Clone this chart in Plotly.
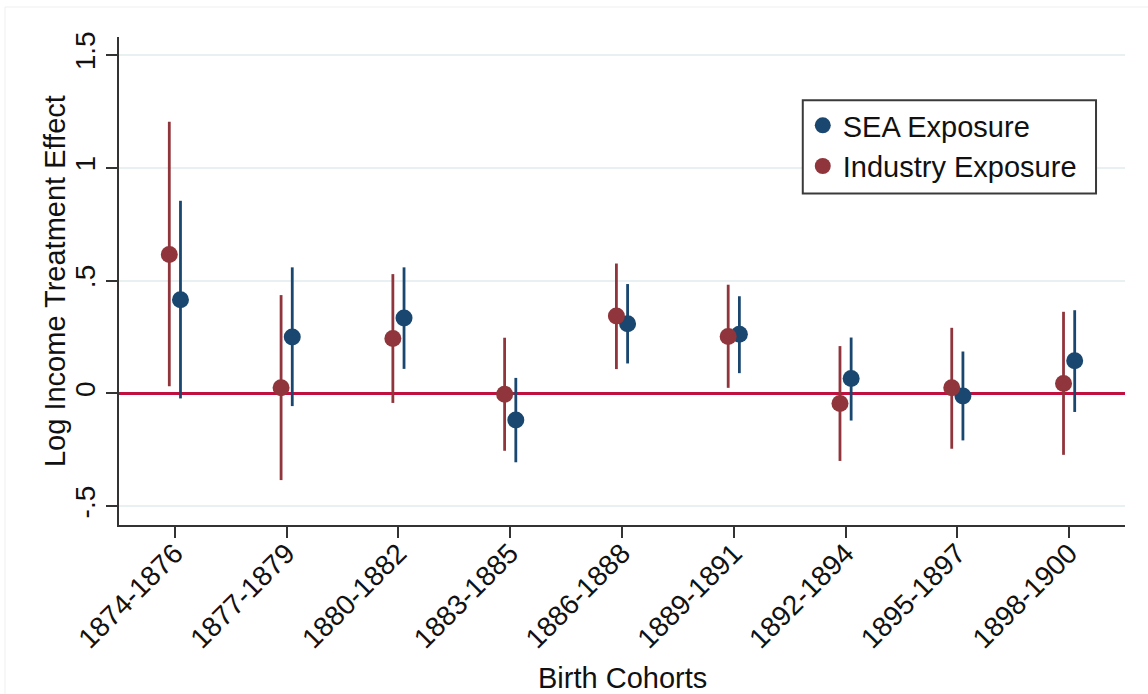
import plotly.graph_objects as go

cohorts = ["1874-1876", "1877-1879", "1880-1882", "1883-1885", "1886-1888",
           "1889-1891", "1892-1894", "1895-1897", "1898-1900"]

sea_est = [0.415, 0.250, 0.334, -0.118, 0.309, 0.262, 0.066, -0.011, 0.145]
sea_lo = [-0.022, -0.056, 0.109, -0.305, 0.133, 0.090, -0.120, -0.208, -0.082]
sea_hi = [0.854, 0.559, 0.559, 0.069, 0.485, 0.431, 0.248, 0.186, 0.369]

ind_est = [0.616, 0.025, 0.244, -0.003, 0.343, 0.253, -0.044, 0.025, 0.044]
ind_lo = [0.032, -0.384, -0.042, -0.254, 0.108, 0.025, -0.299, -0.245, -0.272]
ind_hi = [1.204, 0.436, 0.529, 0.247, 0.576, 0.482, 0.210, 0.291, 0.362]

y_ticks = [-0.5, 0, 0.5, 1, 1.5]
y_ticktext = ["-.5", "0", ".5", "1", "1.5"]

NAVY = "#1a476f"
MAROON = "#90353b"
FONT = "Liberation Sans, Arial, sans-serif"
TXT = "#111111"

idx = list(range(len(cohorts)))
shift = 0.05

fig = go.Figure()
fig.add_trace(go.Scatter(
    x=[i + shift for i in idx], y=sea_est, mode="markers", name="SEA Exposure",
    marker=dict(color=NAVY, size=17),
    error_y=dict(type="data", symmetric=False,
                 array=[h - e for h, e in zip(sea_hi, sea_est)],
                 arrayminus=[e - l for e, l in zip(sea_est, sea_lo)],
                 color=NAVY, thickness=2.8, width=0),
))
fig.add_trace(go.Scatter(
    x=[i - shift for i in idx], y=ind_est, mode="markers", name="Industry Exposure",
    marker=dict(color=MAROON, size=17),
    error_y=dict(type="data", symmetric=False,
                 array=[h - e for h, e in zip(ind_hi, ind_est)],
                 arrayminus=[e - l for e, l in zip(ind_est, ind_lo)],
                 color=MAROON, thickness=2.8, width=0),
))

fig.update_layout(
    width=1148, height=694,
    margin=dict(l=119, r=23, t=37, b=169),
    paper_bgcolor="white", plot_bgcolor="white",
    font=dict(family=FONT, size=28, color=TXT),
    showlegend=True,
    legend=dict(x=0.6797, y=0.871, xanchor="left", yanchor="top",
                borderwidth=0, bgcolor="rgba(0,0,0,0)",
                font=dict(size=29, family=FONT, color=TXT)),
    shapes=[
        dict(type="rect", xref="paper", yref="paper",
             x0=-0.1133, x1=1.05, y0=-0.5, y1=1.0615,
             line=dict(color="#efefef", width=1), layer="below"),
        dict(type="rect", xref="paper", yref="paper",
             x0=0.6797, x1=0.9712, y0=0.6793, y1=0.8705,
             line=dict(color="#3a3a3a", width=2), fillcolor="white", layer="above"),
    ],
    annotations=[
        dict(text="Birth Cohorts", xref="paper", yref="paper",
             x=0.5, y=-0.3135, xanchor="center", yanchor="middle",
             showarrow=False, font=dict(size=29, family=FONT, color=TXT)),
        dict(text="Log Income Treatment Effect", xref="paper", yref="paper",
             x=-0.0636, y=0.5, xanchor="center", yanchor="middle", textangle=-90,
             showarrow=False, font=dict(size=29, family=FONT, color=TXT)),
    ],
)

fig.update_xaxes(
    range=[-0.5, 8.5], tickmode="array", tickvals=idx, ticktext=cohorts,
    tickangle=-45, ticks="outside", ticklen=11, tickwidth=1.5, tickcolor="#333333",
    showline=True, linecolor="#333333", linewidth=1.5, showgrid=False, zeroline=False,
    tickfont=dict(size=28, family=FONT, color=TXT), automargin=False,
    ticklabelstandoff=-12,
)
fig.update_yaxes(
    range=[-0.583, 1.58], tickmode="array", tickvals=y_ticks, ticktext=y_ticktext,
    tickangle=-90, ticks="outside", ticklen=11, tickwidth=1.5, tickcolor="#333333",
    showline=True, linecolor="#333333", linewidth=1.5,
    showgrid=True, gridcolor="#e8f0f2", gridwidth=2,
    zeroline=True, zerolinecolor="#c01040", zerolinewidth=2.5,
    tickfont=dict(size=28, family=FONT, color=TXT), automargin=False,
)

fig.write_html("out.html")
